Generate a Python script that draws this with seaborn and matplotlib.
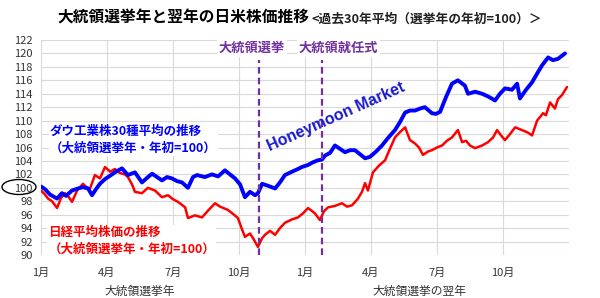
import matplotlib
matplotlib.use("Agg")
import matplotlib.pyplot as plt
import matplotlib.transforms as mtransforms
from matplotlib.patches import Ellipse
import pandas as pd
import seaborn as sns

# ---------------- data (months from January of the election year) ----------------
dow_month = [0.0, 0.18, 0.41, 0.73, 0.95, 1.14, 1.41, 1.68, 1.91, 2.14, 2.32, 2.5, 2.68,
             2.91, 3.14, 3.36, 3.68, 3.95, 4.27, 4.59, 4.86, 5.05, 5.32, 5.5, 5.73, 5.95,
             6.18, 6.41, 6.68, 6.91, 7.09, 7.45, 7.77, 8.05, 8.36, 8.59, 8.82, 9.05, 9.27,
             9.5, 9.73, 9.86, 10.05, 10.32, 10.64, 10.86, 11.09, 11.41, 11.68, 11.86, 12.14,
             12.36, 12.59, 12.77, 12.91, 13.14, 13.36, 13.59, 13.82, 14.05, 14.27, 14.5,
             14.73, 14.95, 15.23, 15.5, 15.77, 16.09, 16.32, 16.55, 16.77, 17.0, 17.23,
             17.45, 17.77, 17.95, 18.14, 18.41, 18.68, 18.95, 19.27, 19.41, 19.73, 20.05,
             20.32, 20.64, 20.86, 21.09, 21.41, 21.64, 21.77, 22.05, 22.32, 22.55, 22.77,
             23.05, 23.27, 23.5, 23.82]
dow_value = [100.2, 99.8, 99.0, 98.4, 99.2, 98.8, 99.6, 99.9, 100.1, 99.9, 98.9, 99.8, 100.6,
             101.3, 101.8, 102.3, 102.9, 101.9, 102.3, 100.8, 101.6, 102.1, 101.5, 101.1,
             101.6, 101.4, 101.0, 100.8, 100.0, 101.6, 101.9, 101.6, 102.0, 101.7, 102.6,
             102.0, 101.4, 100.5, 98.6, 99.4, 98.9, 99.2, 100.6, 100.3, 99.9, 100.8, 101.9,
             102.4, 102.8, 103.1, 103.4, 103.8, 104.1, 104.2, 104.8, 105.2, 106.3, 105.8,
             105.3, 105.6, 105.6, 105.0, 104.4, 104.6, 105.4, 106.3, 107.4, 108.6, 109.8,
             111.2, 111.5, 111.5, 111.8, 112.0, 111.1, 111.0, 111.3, 113.5, 115.5, 116.0,
             115.2, 114.0, 114.3, 114.0, 113.6, 113.0, 114.0, 114.8, 114.6, 115.5, 113.3,
             114.6, 115.7, 117.0, 118.2, 119.4, 119.0, 119.2, 120.0]

nikkei_month = [0.0, 0.18, 0.32, 0.5, 0.73, 0.91, 1.09, 1.27, 1.41, 1.64, 1.91, 2.09, 2.23,
                2.45, 2.68, 2.91, 3.14, 3.36, 3.59, 3.82, 3.95, 4.14, 4.27, 4.59, 4.86, 5.18,
                5.5, 5.77, 6.0, 6.23, 6.55, 6.68, 7.0, 7.32, 7.59, 7.91, 8.14, 8.5, 8.77,
                8.95, 9.14, 9.27, 9.5, 9.64, 9.86, 10.05, 10.18, 10.41, 10.64, 10.86, 11.09,
                11.41, 11.68, 11.91, 12.14, 12.45, 12.68, 12.86, 13.05, 13.36, 13.68, 13.91,
                14.14, 14.41, 14.59, 14.73, 14.86, 15.09, 15.36, 15.64, 15.86, 16.09, 16.32,
                16.55, 16.77, 17.0, 17.18, 17.36, 17.59, 17.77, 18.0, 18.23, 18.45, 18.68,
                18.95, 19.14, 19.32, 19.5, 19.73, 20.05, 20.32, 20.55, 20.73, 20.91, 21.09,
                21.32, 21.55, 21.86, 22.14, 22.32, 22.55, 22.82, 22.95, 23.14, 23.36, 23.5,
                23.68, 23.91]
nikkei_value = [99.6, 99.0, 98.4, 98.0, 97.0, 98.5, 99.2, 98.6, 97.9, 99.6, 100.6, 100.0, 99.9,
                101.9, 101.4, 103.1, 102.4, 102.8, 102.2, 102.0, 101.6, 100.5, 99.4, 99.2,
                100.0, 99.6, 98.6, 98.9, 98.3, 97.9, 97.1, 95.5, 95.9, 95.6, 96.6, 97.7, 97.2,
                96.7, 96.0, 95.5, 93.8, 92.7, 93.2, 92.5, 91.2, 92.5, 93.0, 93.6, 93.0, 94.0,
                94.8, 95.3, 95.6, 96.2, 97.0, 96.2, 95.2, 96.5, 97.1, 97.3, 97.7, 97.2, 97.4,
                98.4, 99.4, 100.7, 99.6, 102.3, 103.3, 104.1, 105.8, 107.5, 108.3, 109.0,
                107.1, 106.6, 106.0, 104.9, 105.4, 105.6, 106.0, 106.3, 107.0, 107.5, 108.6,
                106.8, 107.0, 106.3, 105.9, 106.3, 106.8, 107.5, 108.6, 107.8, 107.1, 108.0,
                109.0, 108.6, 108.2, 107.8, 110.0, 111.1, 110.8, 112.7, 111.8, 113.2, 113.8,
                115.0]

tick_months = [0, 3, 6, 9, 12, 15, 18, 21]
tick_labels = ["1月", "4月", "7月", "10月", "1月", "4月", "7月", "10月"]
y_ticks = [90, 92, 94, 96, 98, 100, 102, 104, 106, 108, 110, 112, 114, 116, 118, 120, 122]
event_months = [9.91, 12.77]
event_labels = ["大統領選挙", "大統領就任式"]
period_labels = ["大統領選挙年", "大統領選挙の翌年"]

title_main = "大統領選挙年と翌年の日米株価推移"
title_sub = "<過去30年平均（選挙年の年初=100）＞"
dow_label = "ダウ工業株30種平均の推移\n（大統領選挙年・年初=100）"
nikkei_label = "日経平均株価の推移\n（大統領選挙年・年初=100）"

# ---------------- style ----------------
sns.set_theme(style="white")
plt.rcParams['font.family'] = ['Noto Sans CJK JP', 'DejaVu Sans']

BLUE = "#0000FF"
RED = "#FF0000"
PURPLE = "#7030A0"

W, H = 600, 298
fig = plt.figure(figsize=(W / 100, H / 100), dpi=100)
fig.patch.set_facecolor("white")
ax = fig.add_axes([41 / W, (H - 255) / H, (569 - 41) / W, (255 - 40) / H])

dow_df = pd.DataFrame({"month": dow_month, "value": dow_value})
nik_df = pd.DataFrame({"month": nikkei_month, "value": nikkei_value})

sns.lineplot(data=dow_df, x="month", y="value", color=BLUE, lw=2.8, ax=ax, zorder=4)
sns.lineplot(data=nik_df, x="month", y="value", color=RED, lw=1.8, ax=ax, zorder=3)

ax.set_xlim(0, 24)
ax.set_ylim(90, 122)
ax.set_xticks(tick_months)
ax.set_xticklabels(tick_labels)
ax.set_yticks(y_ticks)
ax.set_xlabel("")
ax.set_ylabel("")
ax.grid(True, color="#d9d9d9", lw=0.8)
ax.set_axisbelow(True)
for s in ax.spines.values():
    s.set_visible(False)
ax.tick_params(axis="both", length=0, labelsize=8, colors="#333333")
ax.tick_params(axis="y", pad=6)
ax.tick_params(axis="x", pad=9)

# event lines
ax.vlines(event_months, 90, 119, colors=PURPLE, linestyles=(0, (3, 1.8)), lw=1.6, zorder=5)
ax.text(event_months[0] - 0.32, 120.8, event_labels[0], color=PURPLE, fontsize=9.5,
        fontweight="bold", ha="center", va="center",
        bbox=dict(facecolor="white", edgecolor="none", pad=1), zorder=6)
ax.text(event_months[1] + 0.75, 120.8, event_labels[1], color=PURPLE, fontsize=9.5,
        fontweight="bold", ha="center", va="center",
        bbox=dict(facecolor="white", edgecolor="none", pad=1), zorder=6)

# series annotations
ax.text(0.41, 107.2, dow_label, color=BLUE, fontsize=9, fontweight="bold",
        ha="left", va="center", linespacing=1.35,
        bbox=dict(facecolor="white", edgecolor="none", pad=1), zorder=6)
ax.text(0.33, 92.1, nikkei_label, color=RED, fontsize=9, fontweight="bold",
        ha="left", va="center", linespacing=1.35,
        bbox=dict(facecolor="white", edgecolor="none", pad=1), zorder=6)

ax.text(13.4, 110.6, "Honeymoon Market", color="#1a1acc", fontsize=11.5, fontweight="bold",
        family=["Liberation Sans", "DejaVu Sans"], rotation=24, ha="center", va="center",
        rotation_mode="anchor", zorder=6,
        bbox=dict(facecolor="white", edgecolor="none", pad=0.5, alpha=0.0))

# period labels under the axis
trans = mtransforms.blended_transform_factory(ax.transData, ax.transAxes)
ax.text(4.5, -0.167, period_labels[0], transform=trans, fontsize=8.5, color="#333333",
        ha="center", va="center")
ax.text(17.2, -0.167, period_labels[1], transform=trans, fontsize=8.5, color="#333333",
        ha="center", va="center")

# title
fig.text(57 / W, 1 - 18 / H, title_main, fontsize=11.3, fontweight="bold", color="black",
         ha="left", va="center")
fig.text(311 / W, 1 - 19 / H, title_sub, fontsize=9.2, fontweight="bold", color="#222222",
         ha="left", va="center")

# ellipse round the 100 label
fig.patches.append(Ellipse((19 / W, 1 - 187 / H), 34 / W, 15 / H, transform=fig.transFigure,
                           fill=False, edgecolor="black", lw=1.0))

fig.savefig("out.png", dpi=100, facecolor="white")
